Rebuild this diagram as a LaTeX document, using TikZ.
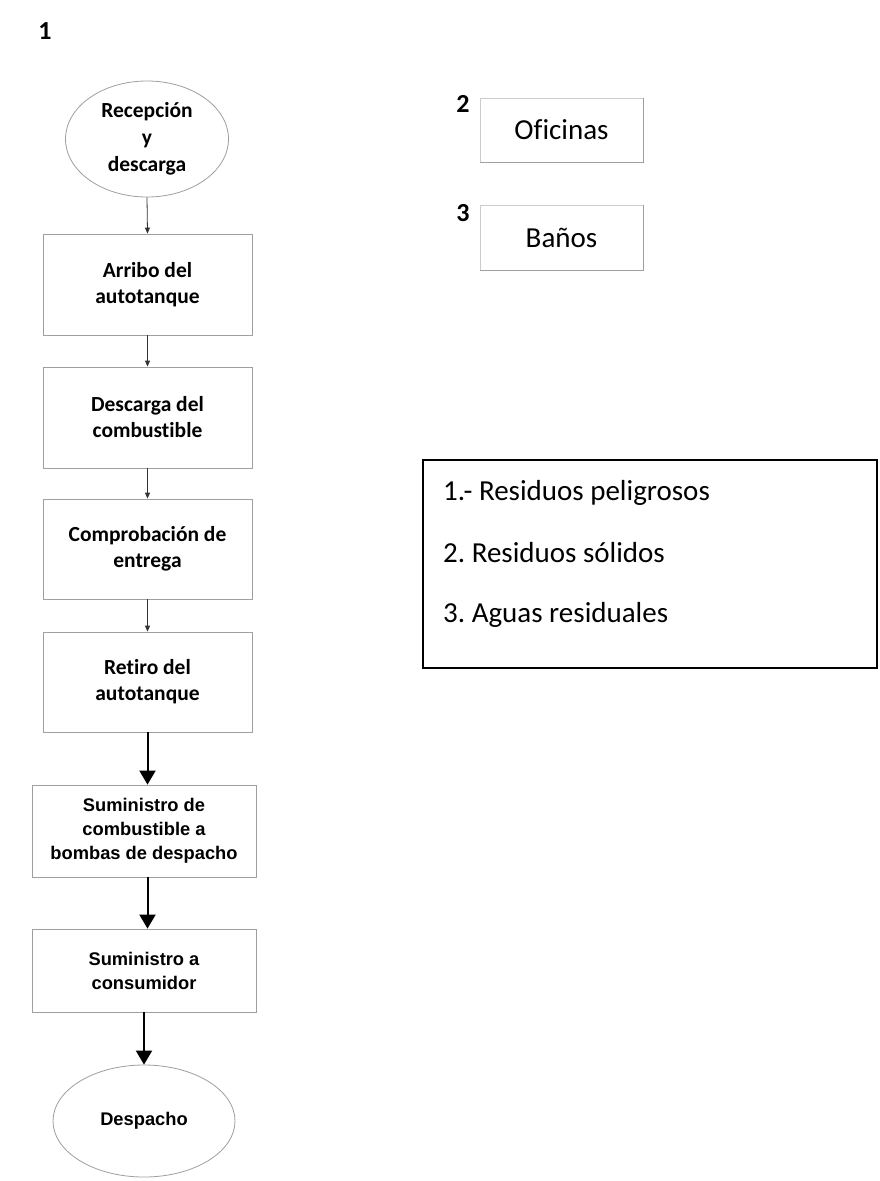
\documentclass[tikz,border=0pt]{standalone}
\usepackage{fontspec}
\setmainfont{Carlito}[Ligatures=NoCommon]
\newfontfamily\arialfont{Liberation Sans}
\usetikzlibrary{shapes.geometric,arrows.meta}
\frenchspacing
\begin{document}
\begin{tikzpicture}[x=1pt,y=-1pt,
  flowbox/.style={draw=gray!75, line width=0.8pt, rectangle, minimum width=209pt, minimum height=101pt, align=center, inner sep=0pt, font=\fontsize{21.5}{26}\selectfont\bfseries},
  arbox/.style={draw=gray!75, line width=0.8pt, rectangle, minimum width=224pt, align=center, inner sep=0pt, font=\arialfont\fontsize{18.3}{24}\selectfont\bfseries},
  term/.style={draw=gray!75, line width=0.8pt, ellipse, inner sep=0pt, align=center},
  thinarrow/.style={draw=black!80, line width=0.8pt, -{Triangle[length=6pt,width=5pt]}},
  thickarrow/.style={draw=black, line width=2pt, -{Triangle[length=14pt,width=16pt]}},
  sidebox/.style={draw=gray!40, line width=0.6pt, rectangle, minimum width=163pt, minimum height=64pt, inner sep=0pt, font=\fontsize{29}{32}\selectfont},
  numlabel/.style={font=\fontsize{26}{30}\selectfont\bfseries, inner sep=0pt},
  legtext/.style={anchor=west, inner sep=0pt, font=\fontsize{29}{32}\selectfont}
]
\useasboundingbox (0,0) rectangle (879,1181);
\fill[white] (0,0) rectangle (879,1181);

\node[numlabel] (n1) at (45,31) {1};

\node[term, minimum width=163pt, minimum height=116pt, font=\fontsize{21.5}{27}\selectfont\bfseries] (e1) at (147,139) {Recepción\\y\\descarga};
\node[flowbox] (b1) at (147.5,284.5) {Arribo del\\autotanque};
\node[flowbox] (b2) at (147.5,417.5) {Descarga del\\combustible};
\node[flowbox, minimum height=100pt] (b3) at (147.5,549) {Comprobación de\\entrega};
\node[flowbox, minimum height=100pt] (b4) at (147.5,682) {Retiro del\\autotanque};
\node[arbox, minimum height=92pt] (b5) at (144,831) {Suministro de\\combustible a\\bombas de despacho};
\node[arbox, minimum height=83pt] (b6) at (144,970.5) {Suministro a\\consumidor};
\node[term, minimum width=182pt, minimum height=112pt, font=\arialfont\fontsize{18.3}{24}\selectfont\bfseries] (e2) at (144,1121) {Despacho};

\draw[thinarrow] (e1.south) -- (b1.north);
\draw[thinarrow] (b1.south) -- (b2.north);
\draw[thinarrow] (b2.south) -- (b3.north);
\draw[thinarrow] (b3.south) -- (b4.north);
\draw[thickarrow] (b4.south) -- (b4.south |- b5.north);
\draw[thickarrow] (b4.south |- b5.south) -- (b4.south |- b6.north);
\draw[thickarrow] (b6.south) -- (e2.north);

\node[numlabel] (n2) at (463,104) {2};
\node[sidebox] (of) at (561.5,130) {Oficinas};
\draw[gray!75, line width=0.8pt] (of.north east) -- (of.south east) -- (of.south west);
\node[numlabel] (n3) at (463,213) {3};
\node[sidebox, minimum height=65pt] (ba) at (561.5,237.5) {Baños};
\draw[gray!75, line width=0.8pt] (ba.north east) -- (ba.south east) -- (ba.south west);

\node[draw=black, line width=1.4pt, rectangle, minimum width=454pt, minimum height=208pt, inner sep=0pt] (leg) at (650,564) {};
\node[legtext] (l1) at (443,493) {1.- Residuos peligrosos};
\node[legtext] (l2) at (443,553) {2. Residuos sólidos};
\node[legtext] (l3) at (443,615) {3. Aguas residuales};
\end{tikzpicture}
\end{document}
